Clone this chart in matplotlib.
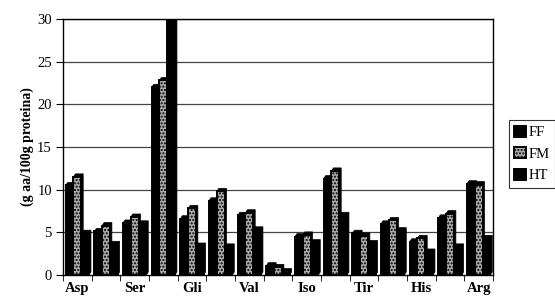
import matplotlib
matplotlib.use("Agg")
import matplotlib.pyplot as plt
from matplotlib.patches import Polygon
import numpy as np

plt.rcParams['font.family'] = ['Liberation Serif', 'DejaVu Serif']
plt.rcParams['hatch.color'] = '#555555'

categories = ["Asp", "Tre", "Ser", "Glu", "Gli", "Ala", "Val", "Met", "Iso",
              "Leu", "Tir", "Fen", "His", "Lis", "Arg"]
series_names = ["FF", "FM", "HT"]
ff = [10.5, 5.1, 6.1, 22.0, 6.6, 8.7, 7.0, 1.1, 4.5, 11.3, 4.9, 6.0, 3.9, 6.7, 10.7]
fm = [11.5, 5.8, 6.8, 22.8, 7.8, 9.8, 7.3, 0.9, 4.7, 12.2, 4.6, 6.4, 4.3, 7.2, 10.6]
ht = [4.9, 3.6, 6.0, 30.0, 3.4, 3.3, 5.3, 0.4, 3.8, 7.0, 3.7, 5.2, 2.7, 3.3, 4.3]
yticks = [0, 5, 10, 15, 20, 25, 30]

W, H = 555, 301
fig = plt.figure(figsize=(W / 100, H / 100), dpi=100)
ax = fig.add_axes([63 / W, (H - 275) / H, (493 - 63) / W, (275 - 19) / H])

n = len(categories)
x = np.arange(n) + 0.5
bw = 0.27
offsets = [-bw, 0, bw]
dx, dy = 0.07, 0.35

ax.set_xlim(0, n)
ax.set_ylim(0, 30)
for yt in yticks[1:]:
    ax.axhline(yt, color='#444444', lw=0.9, zorder=0)

data = [ff, fm, ht]
styles = [dict(fc='black', hatch=None), dict(fc='#aaaaaa', hatch='.....'), dict(fc='black', hatch=None)]
for s, (vals, off, st) in enumerate(zip(data, offsets, styles)):
    xs = x + off
    for xi, v in zip(xs, vals):
        x0, x1 = xi - bw / 2, xi + bw / 2
        poly = Polygon([(x0, v), (x0 + dx, min(v + dy, 30)), (x1 + dx, min(v + dy, 30)),
                        (x1 + dx, dy), (x1, 0)], closed=True, fc='black', ec='black',
                       lw=0.5, zorder=2 + s * 2, clip_on=True)
        ax.add_patch(poly)
    ax.bar(xs, vals, width=bw, color=st['fc'], hatch=st['hatch'], edgecolor='black',
           linewidth=1.4, zorder=3 + s * 2, label=series_names[s])

ax.set_yticks(yticks)
ax.set_yticklabels([str(t) for t in yticks], fontsize=10.5)
ax.set_xticks(x[::2])
ax.set_xticklabels(categories[::2], fontsize=10.5, fontweight='bold')
ax.set_xticks(np.arange(n + 1), minor=True)
ax.tick_params(axis='x', which='major', length=0, pad=5)
ax.tick_params(axis='x', which='minor', length=4, direction='out')
ax.tick_params(axis='y', length=5, direction='out', pad=3)
for sp in ax.spines.values():
    sp.set_linewidth(1.0)
ax.set_ylabel("(g aa/100g proteina)", fontsize=10, fontweight='bold', labelpad=2)

handles, labels = ax.get_legend_handles_labels()
leg = fig.legend(handles, labels, loc='center left', bbox_to_anchor=(509 / W, (H - 154) / H),
                 frameon=True, fancybox=False, edgecolor='black', fontsize=10.5,
                 handlelength=0.8, handleheight=0.8, handletextpad=0.2,
                 borderpad=0.35, labelspacing=0.55, borderaxespad=0)
leg.get_frame().set_linewidth(0.8)

fig.savefig("out.png", dpi=100)
